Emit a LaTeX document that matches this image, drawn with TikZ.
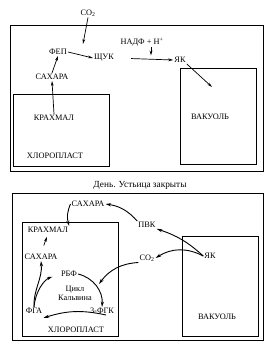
\documentclass[tikz,border=0pt]{standalone}
\usepackage{fontspec}
\setmainfont{Liberation Serif}
\usetikzlibrary{arrows.meta, positioning, calc}

\begin{document}
\begin{tikzpicture}[
    x=1pt, y=-1pt,
    lbl/.style={font=\fontsize{8.3}{8.8}\selectfont, inner sep=1pt},
    cell/.style={draw, line width=0.7pt},
    arr/.style={-{Stealth[length=5.5pt, width=3.2pt]}, line width=0.9pt},
    thinarr/.style={-{Stealth[length=5pt, width=2.8pt]}, line width=0.7pt}
  ]
  \useasboundingbox (0,0) rectangle (277,345);

  % night: cell, chloroplast, vacuole
  \draw[cell] (10,25) rectangle (263,171);
  \draw[cell] (13,94) rectangle (109,166);
  \draw[cell] (180,68) rectangle (256,164);

  \node[lbl] (co2a) at (88,13) {CO\textsubscript{2}};
  \node[lbl] (fep) at (58,52) {ФЕП};
  \node[lbl] (shuk) at (104,58) {ЩУК};
  \node[lbl] (nadf) at (142,42) {НАДФ + Н\textsuperscript{+}};
  \node[lbl] (yak) at (180,60) {ЯК};
  \node[lbl] (sug) at (52,77) {САХАРА};
  \node[lbl] (starch) at (54,118) {КРАХМАЛ};
  \node[lbl] (vac) at (210,117) {ВАКУОЛЬ};
  \node[lbl] (chl) at (55,156) {ХЛОРОПЛАСТ};

  \coordinate (co2in) at (83,44);
  \coordinate (nadfin) at (151,55.5);
  \coordinate (yakin) at (212,87);

  \draw[thinarr] (co2a.south) -- (co2in);
  \draw[thinarr] (fep.east) -- (shuk.west);
  \draw[thinarr, shorten <=16pt] (shuk.east) -- (yak.west);
  \draw[thinarr] (nadf.south -| nadfin) -- (nadfin);
  \draw[thinarr] (yak.south east) -- (yakin);
  \draw[thinarr] (sug.north) -- (fep.south);
  \draw[thinarr] (starch.north) -- (sug.south);

  \node[font=\fontsize{9.3}{10}\selectfont] (cap) at (140,185) {День. Устьица закрыты};

  % day: cell, chloroplast, vacuole
  \draw[cell] (12,193) rectangle (263,340);
  \draw[cell] (22,222) rectangle (118,336);
  \draw[cell] (182,236) rectangle (258,336);

  \node[lbl] (sugb) at (88,204) {САХАРА};
  \node[lbl] (pvk) at (147,225) {ПВК};
  \node[lbl] (starchb) at (48,230) {КРАХМАЛ};
  \node[lbl] (co2b) at (147,258) {CO\textsubscript{2}};
  \node[lbl] (yakb) at (210,256) {ЯК};
  \node[lbl] (sugc) at (41,257) {САХАРА};
  \node[lbl] (rbf) at (69,274) {РБФ};
  \node[lbl, align=center] (cyc) at (75,293) {Цикл\\Кальвина};
  \node[lbl] (fga) at (34,311) {ФГА};
  \node[lbl] (fgk) at (102,311) {3-ФГК};
  \node[lbl] (chlb) at (76,330) {ХЛОРОПЛАСТ};
  \node[lbl] (vacb) at (217,317) {ВАКУОЛЬ};

  \coordinate (cin) at (99,284);

  \draw[arr] (yakb.west) to[bend right=12] (pvk.south east);
  \draw[arr] (yakb.west) to[bend right=30] (co2b.east);
  \draw[arr] (pvk.north west) to[bend right=20] (sugb.east);
  \draw[arr] (sugb.west) to[bend right=20] (starchb.north east);
  \draw[thinarr, shorten <=8pt, shorten >=3pt] (sugc.north) -- (starchb.south);
  \draw[arr] (co2b.south west) to[bend right=25] (cin);

  % Calvin cycle
  \draw[arr] (rbf.east) to[bend left=40] (fgk.north);
  \draw[arr] ([xshift=4pt]fgk.south) to[bend right=15] ([yshift=-3pt]fga.south east);
  \draw[arr] (fga.north) to[out=92, in=-85] (sugc.south);
  \draw[arr, shorten >=8pt] (fga.north) to[out=85, in=-160] (rbf.west);
\end{tikzpicture}
\end{document}
